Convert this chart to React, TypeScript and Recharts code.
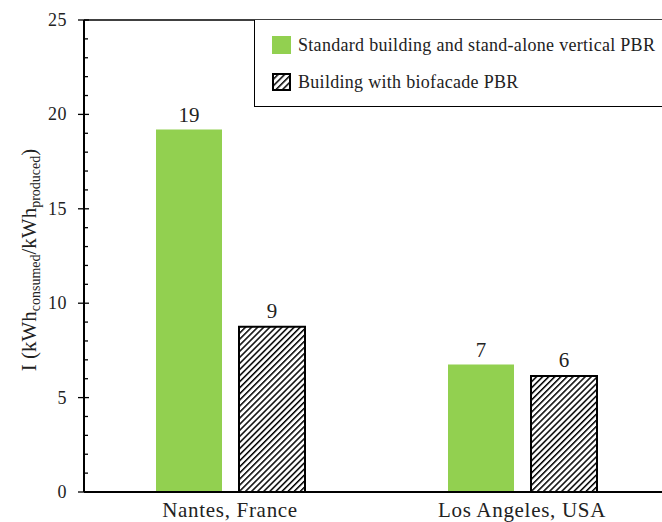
import React from "react";
import {
  BarChart,
  Bar,
  XAxis,
  YAxis,
  ReferenceLine,
  LabelList,
} from "recharts";

const cities = ["Nantes, France", "Los Angeles, USA"];
const standardPBR = [19.2, 6.75];
const biofacadePBR = [8.75, 6.15];
const majorTicks = [0, 5, 10, 15, 20, 25];
const allTicks = [
  0, 1, 2, 3, 4, 5, 6, 7, 8, 9, 10, 11, 12, 13, 14, 15, 16, 17, 18, 19, 20,
  21, 22, 23, 24, 25,
];
const seriesNames = [
  "Standard building and stand-alone vertical PBR",
  "Building with biofacade PBR",
];

const data = cities.map((city, i) => ({
  city,
  standard: standardPBR[i],
  biofacade: biofacadePBR[i],
}));

const GREEN = "#92D050";
const FONT = "'Liberation Serif', 'Times New Roman', serif";

// y ticks: major ones cross the axis, minor ones only inside
function YTick(props: any) {
  const { x, y, payload } = props;
  const v = payload.value;
  const major = majorTicks.includes(v);
  return (
    <g>
      {major ? (
        <>
          <line x1={x - 6} x2={x + 5} y1={y} y2={y} stroke="#000" strokeWidth={1.3} />
          <text
            x={x - 17}
            y={y}
            dy={6}
            textAnchor="end"
            fontFamily={FONT}
            fontSize={18}
            letterSpacing={0.5}
            fill="#222"
          >
            {v}
          </text>
        </>
      ) : (
        <line x1={x} x2={x + 4} y1={y} y2={y} stroke="#000" strokeWidth={1.3} />
      )}
    </g>
  );
}

function XTick(props: any) {
  const { x, y, payload } = props;
  return (
    <text
      x={x}
      y={y}
      dy={17}
      textAnchor="middle"
      fontFamily={FONT}
      fontSize={21}
      letterSpacing={0.7}
      fill="#222"
    >
      {payload.value}
    </text>
  );
}

function YLabel(props: any) {
  const vb = props.viewBox || { x: 0, y: 20, width: 84, height: 472 };
  const cx = vb.x + 36;
  const cy = vb.y + vb.height / 2 + 4;
  return (
    <text
      transform={`translate(${cx},${cy}) rotate(-90)`}
      textAnchor="middle"
      fontFamily={FONT}
      fontSize={21}
      fill="#222"
    >
      I (kWh
      <tspan fontSize={14} dy={4}>consumed</tspan>
      <tspan dy={-4}>/kWh</tspan>
      <tspan fontSize={14} dy={4}>produced</tspan>
      <tspan dy={-4}>)</tspan>
    </text>
  );
}

function HatchSwatch() {
  return (
    <svg width={19} height={18} style={{ display: "block" }}>
      <defs>
        <pattern
          id="hatchLegend"
          patternUnits="userSpaceOnUse"
          width={4.6}
          height={4.6}
          patternTransform="rotate(45)"
        >
          <rect width={4.6} height={4.6} fill="#fff" />
          <line x1={0} y1={0} x2={0} y2={4.6} stroke="#000" strokeWidth={3} />
        </pattern>
      </defs>
      <rect x={1} y={1} width={17} height={16} fill="url(#hatchLegend)" stroke="#000" strokeWidth={2} />
    </svg>
  );
}

function LegendBox() {
  const row: React.CSSProperties = {
    display: "flex",
    alignItems: "center",
    height: 18,
    fontFamily: FONT,
    fontSize: 18,
    letterSpacing: 0.3,
    color: "#222",
    whiteSpace: "nowrap",
  };
  return (
    <div
      style={{
        position: "absolute",
        left: 254,
        top: 20,
        borderLeft: "1.5px solid #000",
        borderBottom: "1.5px solid #000",
        width: 460,
        height: 87,
        boxSizing: "border-box",
        paddingTop: 16,
        paddingLeft: 17,
        background: "#fff",
      }}
    >
      <div style={row}>
        <span style={{ width: 19, height: 18, background: GREEN, display: "inline-block" }} />
        <span style={{ marginLeft: 7 }}>{seriesNames[0]}</span>
      </div>
      <div style={{ ...row, marginTop: 19 }}>
        <HatchSwatch />
        <span style={{ marginLeft: 7 }}>{seriesNames[1]}</span>
      </div>
    </div>
  );
}

export default function App() {
  return (
    <div
      style={{
        position: "absolute",
        left: 0,
        top: 0,
        width: 662,
        height: 522,
        overflow: "hidden",
        background: "#fff",
      }}
    >
      <BarChart
        width={700}
        height={522}
        data={data}
        margin={{ top: 20, right: 32, left: 0, bottom: 0 }}
        barCategoryGap={72}
        barGap={17}
      >
        <defs>
          <pattern
            id="hatch"
            patternUnits="userSpaceOnUse"
            width={4.3}
            height={4.3}
            patternTransform="rotate(45)"
          >
            <rect width={4.3} height={4.3} fill="#fff" />
            <line x1={0} y1={0} x2={0} y2={4.3} stroke="#000" strokeWidth={3} />
          </pattern>
        </defs>
        <XAxis
          dataKey="city"
          height={30}
          axisLine={{ stroke: "#000", strokeWidth: 2 }}
          tickLine={false}
          tick={<XTick />}
          interval={0}
        />
        <YAxis
          width={84}
          domain={[0, 25]}
          ticks={allTicks}
          interval={0}
          axisLine={{ stroke: "#000", strokeWidth: 2 }}
          tickLine={false}
          tickSize={0}
          tickMargin={0}
          tick={<YTick />}
          label={{ content: <YLabel /> }}
        />
        <ReferenceLine y={25} stroke="#000" strokeWidth={1.5} />
        <Bar
          dataKey="standard"
          name={seriesNames[0]}
          fill={GREEN}
          isAnimationActive={false}
        >
          <LabelList
            dataKey="standard"
            position="top"
            offset={8}
            formatter={(v: any) => Math.round(Number(v))}
            style={{ fontFamily: FONT, fontSize: 21, fill: "#222" }}
          />
        </Bar>
        <Bar
          dataKey="biofacade"
          name={seriesNames[1]}
          fill="url(#hatch)"
          stroke="#000"
          strokeWidth={2}
          isAnimationActive={false}
        >
          <LabelList
            dataKey="biofacade"
            position="top"
            offset={9}
            formatter={(v: any) => Math.round(Number(v))}
            style={{ fontFamily: FONT, fontSize: 21, fill: "#222" }}
          />
        </Bar>
      </BarChart>
      <LegendBox />
    </div>
  );
}
